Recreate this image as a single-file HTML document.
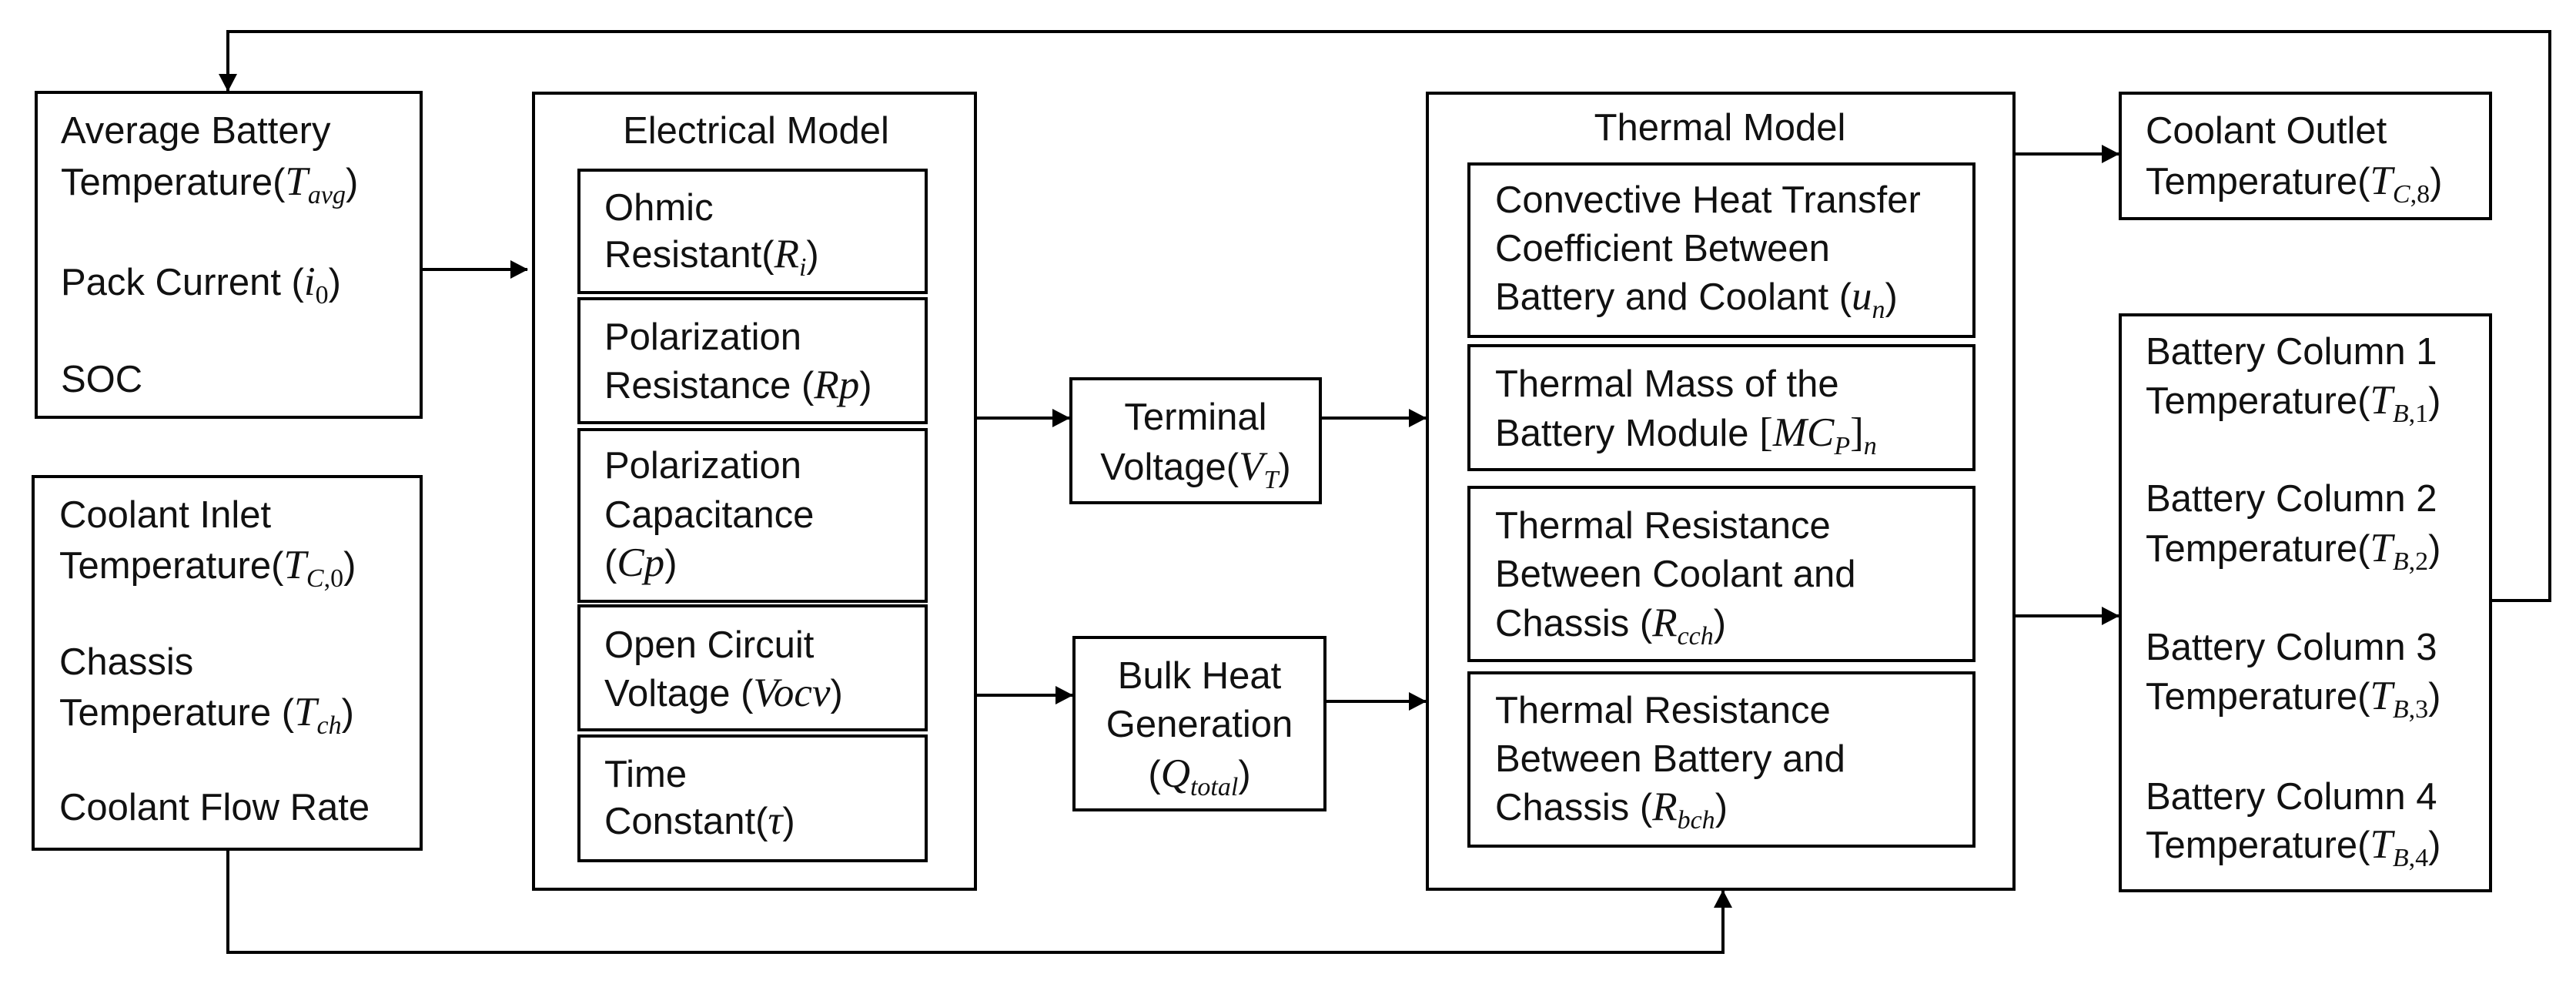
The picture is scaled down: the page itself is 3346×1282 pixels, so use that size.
<!DOCTYPE html>
<html><head><meta charset="utf-8"><style>
html,body{margin:0;padding:0;background:#fff;}
svg{display:block;}
text{font-family:"Liberation Sans",sans-serif;font-size:49px;fill:#111;}
.m{font-family:"Liberation Serif",serif;font-style:italic;font-size:53px;}
.b{font-family:"Liberation Serif",serif;font-size:53px;}
.s{font-family:"Liberation Serif",serif;font-style:italic;font-size:34px;}
.r{font-family:"Liberation Serif",serif;font-size:34px;}
</style></head><body>
<svg width="3346" height="1282" viewBox="0 0 3346 1282" xmlns="http://www.w3.org/2000/svg">
<defs>
<marker id="a" markerWidth="24" markerHeight="24" refX="22" refY="12" orient="auto" markerUnits="userSpaceOnUse">
<path d="M0,0 L23,12 L0,24 Z" fill="#000"/></marker>
</defs>
<g fill="none" stroke="#000" stroke-width="4">
<rect x="47" y="120" width="500" height="422"/>
<rect x="43" y="619" width="504" height="484"/>
<rect x="693" y="121" width="574" height="1034"/>
<rect x="752" y="221" width="451" height="159"/>
<rect x="752" y="388" width="451" height="161"/>
<rect x="752" y="558" width="451" height="223"/>
<rect x="752" y="787" width="451" height="161"/>
<rect x="752" y="956" width="451" height="162"/>
<rect x="1391" y="492" width="324" height="161"/>
<rect x="1395" y="828" width="326" height="224"/>
<rect x="1854" y="121" width="762" height="1034"/>
<rect x="1908" y="213" width="656" height="224"/>
<rect x="1908" y="449" width="656" height="161"/>
<rect x="1908" y="633" width="656" height="225"/>
<rect x="1908" y="874" width="656" height="225"/>
<rect x="2754" y="121" width="481" height="163"/>
<rect x="2754" y="409" width="481" height="748"/>
<path d="M547,350 H685" marker-end="url(#a)"/>
<path d="M1267,543 H1389" marker-end="url(#a)"/>
<path d="M1267,903 H1393" marker-end="url(#a)"/>
<path d="M1717,543 H1852" marker-end="url(#a)"/>
<path d="M1721,911 H1852" marker-end="url(#a)"/>
<path d="M2616,200 H2752" marker-end="url(#a)"/>
<path d="M2616,800 H2752" marker-end="url(#a)"/>
<path d="M3235,780 H3312 V41 H296 V118" marker-end="url(#a)"/>
<path d="M296,1103 V1237 H2238 V1157" marker-end="url(#a)"/>
</g>
<text x="79" y="186">Average Battery</text>
<text x="79" y="253">Temperature(<tspan class="m">T</tspan><tspan class="s" dy="11">avg</tspan><tspan dy="-11">)</tspan></text>
<text x="79" y="383">Pack Current (<tspan class="m">i</tspan><tspan class="r" dy="11">0</tspan><tspan dy="-11">)</tspan></text>
<text x="79" y="509">SOC</text>
<text x="77" y="685">Coolant Inlet</text>
<text x="77" y="751">Temperature(<tspan class="m">T</tspan><tspan class="s" dy="11">C</tspan><tspan class="r">,0</tspan><tspan dy="-11">)</tspan></text>
<text x="77" y="876">Chassis</text>
<text x="77" y="942">Temperature (<tspan class="m">T</tspan><tspan class="s" dy="11">ch</tspan><tspan dy="-11">)</tspan></text>
<text x="77" y="1065">Coolant Flow Rate</text>
<text x="982" y="186" text-anchor="middle">Electrical Model</text>
<text x="785" y="286">Ohmic</text>
<text x="785" y="347">Resistant(<tspan class="m">R</tspan><tspan class="s" dy="11">i</tspan><tspan dy="-11">)</tspan></text>
<text x="785" y="454">Polarization</text>
<text x="785" y="517">Resistance (<tspan class="m">Rp</tspan>)</text>
<text x="785" y="621">Polarization</text>
<text x="785" y="685">Capacitance</text>
<text x="785" y="748">(<tspan class="m">Cp</tspan>)</text>
<text x="785" y="854">Open Circuit</text>
<text x="785" y="917">Voltage (<tspan class="m">Vocv</tspan>)</text>
<text x="785" y="1022">Time</text>
<text x="785" y="1083">Constant(<tspan class="m">τ</tspan>)</text>
<text x="1553" y="558" text-anchor="middle">Terminal</text>
<text x="1553" y="623" text-anchor="middle">Voltage(<tspan class="m">V</tspan><tspan class="s" dy="11">T</tspan><tspan dy="-11">)</tspan></text>
<text x="1558" y="894" text-anchor="middle">Bulk Heat</text>
<text x="1558" y="957" text-anchor="middle">Generation</text>
<text x="1558" y="1022" text-anchor="middle">(<tspan class="m">Q</tspan><tspan class="s" dy="11">total</tspan><tspan dy="-11">)</tspan></text>
<text x="2234" y="182" text-anchor="middle">Thermal Model</text>
<text x="1942" y="276">Convective Heat Transfer</text>
<text x="1942" y="339">Coefficient Between</text>
<text x="1942" y="402">Battery and Coolant (<tspan class="m">u</tspan><tspan class="s" dy="11">n</tspan><tspan dy="-11">)</tspan></text>
<text x="1942" y="515">Thermal Mass of the</text>
<text x="1942" y="579">Battery Module <tspan class="b">[</tspan><tspan class="m">MC</tspan><tspan class="s" dy="11">P</tspan><tspan class="b" dy="-11">]</tspan><tspan class="s" dy="11">n</tspan></text>
<text x="1942" y="699">Thermal Resistance</text>
<text x="1942" y="762">Between Coolant and</text>
<text x="1942" y="826">Chassis (<tspan class="m">R</tspan><tspan class="s" dy="11">cch</tspan><tspan dy="-11">)</tspan></text>
<text x="1942" y="939">Thermal Resistance</text>
<text x="1942" y="1002">Between Battery and</text>
<text x="1942" y="1065">Chassis (<tspan class="m">R</tspan><tspan class="s" dy="11">bch</tspan><tspan dy="-11">)</tspan></text>
<text x="2787" y="186">Coolant Outlet</text>
<text x="2787" y="252">Temperature(<tspan class="m">T</tspan><tspan class="s" dy="11">C</tspan><tspan class="r">,8</tspan><tspan dy="-11">)</tspan></text>
<text x="2787" y="473">Battery Column 1</text>
<text x="2787" y="537">Temperature(<tspan class="m">T</tspan><tspan class="s" dy="11">B</tspan><tspan class="r">,1</tspan><tspan dy="-11">)</tspan></text>
<text x="2787" y="664">Battery Column 2</text>
<text x="2787" y="729">Temperature(<tspan class="m">T</tspan><tspan class="s" dy="11">B</tspan><tspan class="r">,2</tspan><tspan dy="-11">)</tspan></text>
<text x="2787" y="857">Battery Column 3</text>
<text x="2787" y="921">Temperature(<tspan class="m">T</tspan><tspan class="s" dy="11">B</tspan><tspan class="r">,3</tspan><tspan dy="-11">)</tspan></text>
<text x="2787" y="1051">Battery Column 4</text>
<text x="2787" y="1114">Temperature(<tspan class="m">T</tspan><tspan class="s" dy="11">B</tspan><tspan class="r">,4</tspan><tspan dy="-11">)</tspan></text>
</svg>
</body></html>
